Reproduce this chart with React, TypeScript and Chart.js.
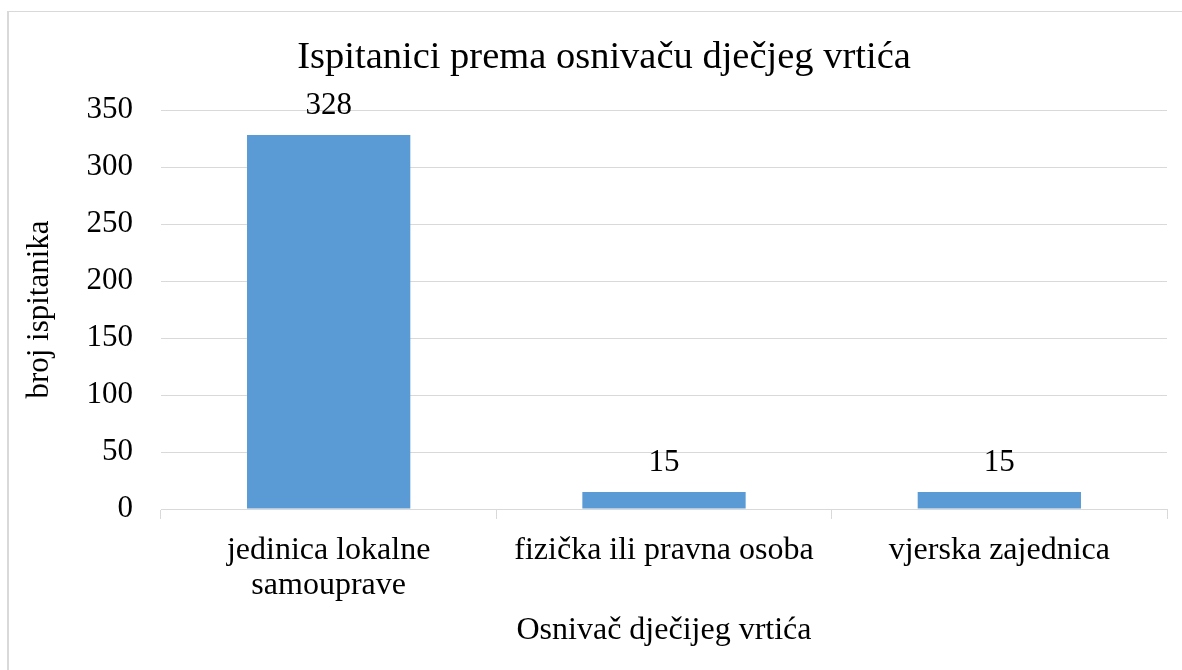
import React, { useEffect, useRef } from "react";
import { Chart, registerables } from "chart.js";

Chart.register(...registerables);

const chartTitle = "Ispitanici prema osnivaču dječjeg vrtića";
const xAxisTitle = "Osnivač dječijeg vrtića";
const yAxisTitle = "broj ispitanika";
const categories: (string | string[])[] = [
  ["jedinica lokalne", "samouprave"],
  "fizička ili pravna osoba",
  "vjerska zajednica",
];
const values = [328, 15, 15];
const yMin = 0;
const yMax = 350;
const yStep = 50;

const FONT = '"Liberation Serif", "Times New Roman", serif';
const GRID = "#d9d9d9";
const BAR = "#5b9bd5";

const valueLabels = {
  id: "valueLabels",
  afterDatasetsDraw(chart: any) {
    const ctx = chart.ctx;
    const meta = chart.getDatasetMeta(0);
    ctx.save();
    ctx.font = `31px ${FONT}`;
    ctx.fillStyle = "#000";
    ctx.textAlign = "center";
    ctx.textBaseline = "middle";
    meta.data.forEach((bar: any, i: number) => {
      ctx.fillText(String(values[i]), bar.x, bar.y - 29);
    });
    ctx.restore();
  },
};

const titlePlugin = {
  id: "customTitle",
  afterDraw(chart: any) {
    const ctx = chart.ctx;
    ctx.save();
    ctx.font = `38.5px ${FONT}`;
    ctx.fillStyle = "#000";
    ctx.textAlign = "center";
    ctx.textBaseline = "middle";
    ctx.fillText(chartTitle, 595, 46);
    ctx.restore();
  },
};

export default function App() {
  const ref = useRef<HTMLCanvasElement>(null);
  useEffect(() => {
    if (!ref.current) return;
    const chart = new Chart(ref.current, {
      type: "bar",
      data: {
        labels: categories,
        datasets: [
          {
            data: values,
            backgroundColor: BAR,
            borderWidth: 0,
            categoryPercentage: 1,
            barPercentage: 0.487,
          },
        ],
      },
      options: {
        responsive: false,
        animation: false,
        layout: { padding: { top: 98, right: 15, left: 0, bottom: 0 } },
        plugins: {
          legend: { display: false },
          tooltip: { enabled: false },
          title: { display: false },
        },
        scales: {
          x: {
            grid: {
              drawOnChartArea: false,
              drawTicks: true,
              tickLength: 10,
              color: GRID,
              offset: true,
            },
            border: { display: true, color: GRID, width: 1 },
            ticks: {
              color: "#000",
              padding: 14,
              maxRotation: 0,
              autoSkip: false,
              font: { family: FONT, size: 32, lineHeight: 1.1 },
            },
            title: {
              display: true,
              text: xAxisTitle,
              color: "#000",
              font: { family: FONT, size: 32, lineHeight: 1.2 },
              padding: { top: 20, bottom: 20 },
            },
            afterFit(scale: any) {
              scale.height = 161;
            },
          },
          y: {
            min: yMin,
            max: yMax,
            grid: { drawTicks: false, color: GRID },
            border: { display: false },
            ticks: {
              stepSize: yStep,
              color: "#000",
              padding: 28,
              font: { family: FONT, size: 31 },
            },
            title: {
              display: true,
              text: yAxisTitle,
              color: "#000",
              font: { family: FONT, size: 31, lineHeight: 1.2 },
              padding: { top: 12, bottom: 12 },
            },
            afterFit(scale: any) {
              scale.width = 152;
            },
          },
        },
      },
      plugins: [valueLabels, titlePlugin],
    });
    return () => chart.destroy();
  }, []);

  return (
    <div
      style={{
        position: "absolute",
        left: 7,
        top: 11,
        width: 1175,
        height: 659,
        borderTop: "1px solid #d9d9d9",
        borderLeft: "2px solid #d9d9d9",
        background: "#fff",
      }}
    >
      <canvas ref={ref} width={1173} height={658} style={{ display: "block" }} />
    </div>
  );
}
